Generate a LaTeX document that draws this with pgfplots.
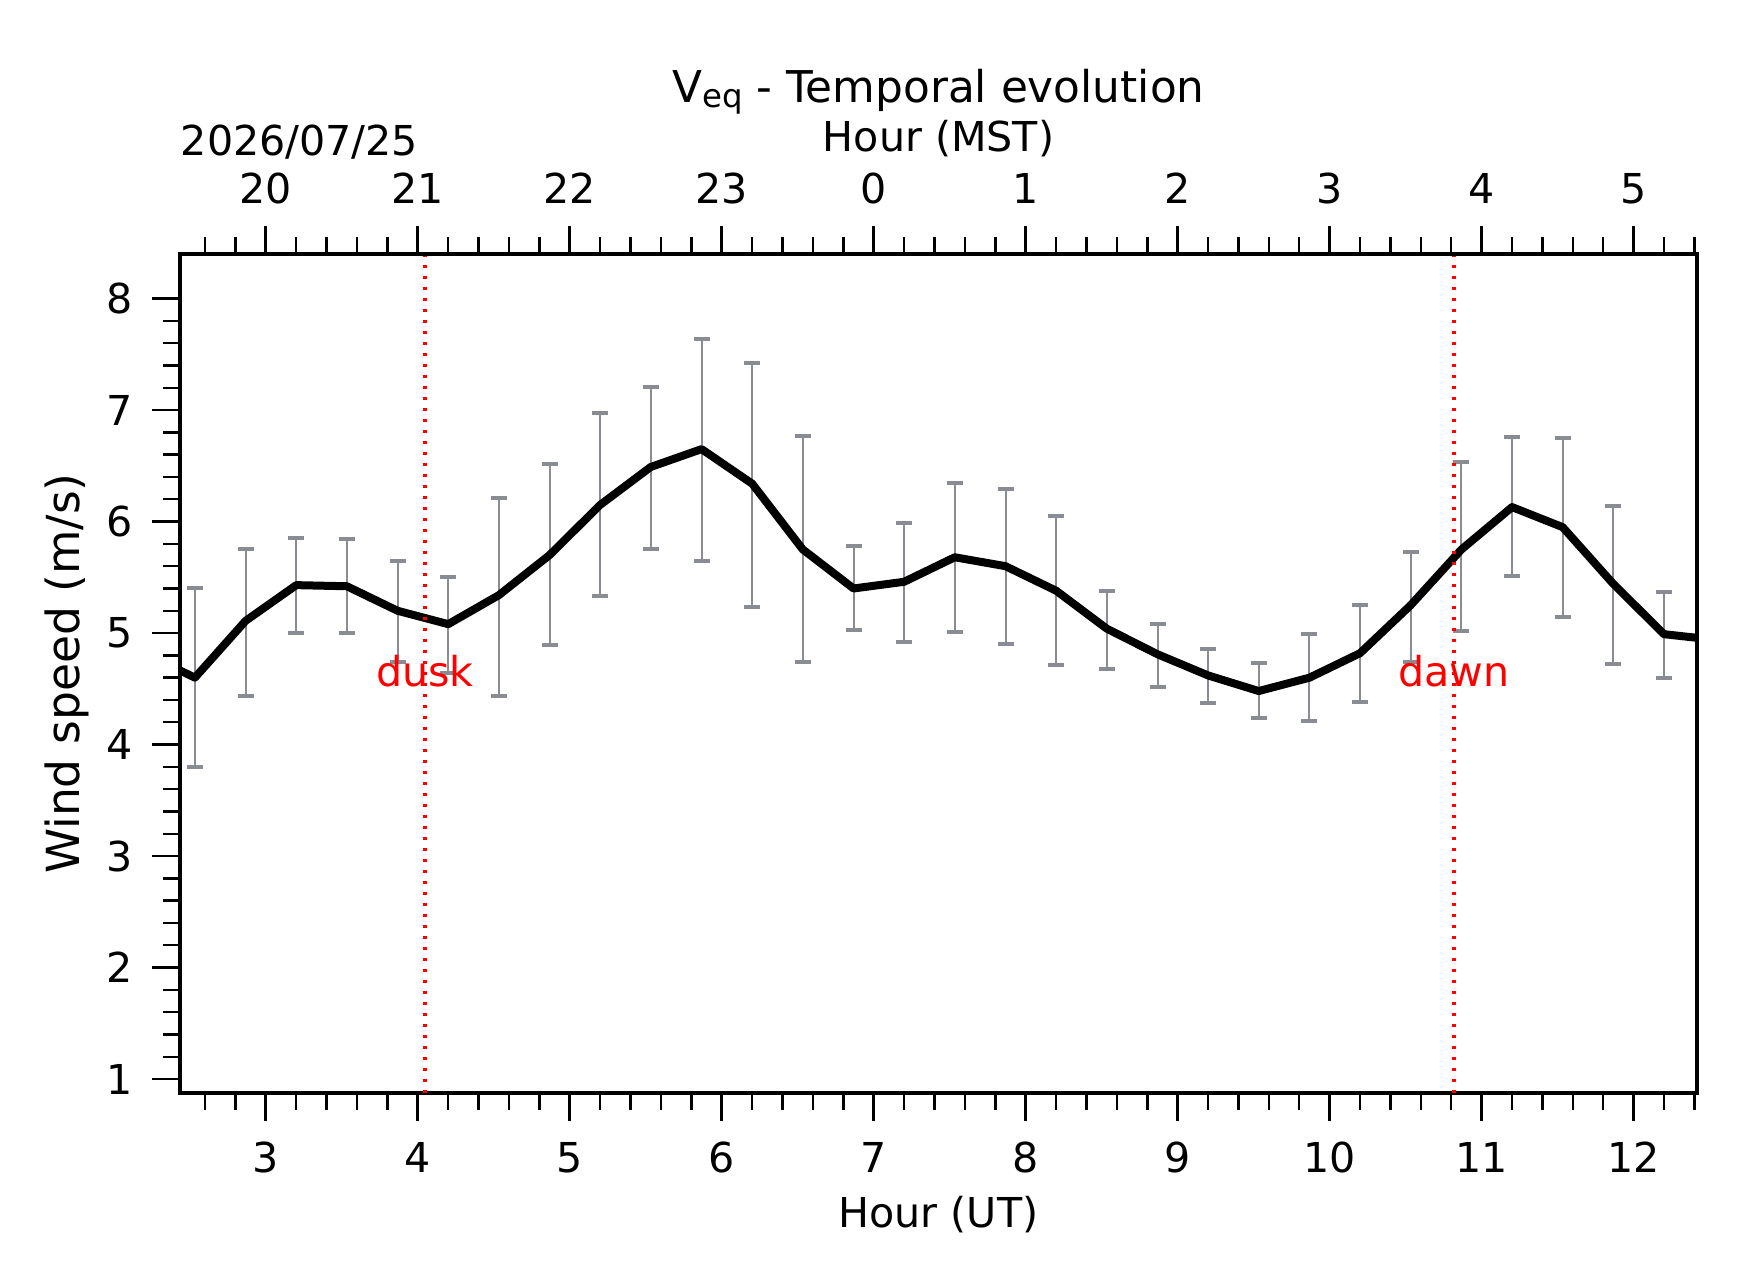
\documentclass[border=0pt]{standalone}
\usepackage{fontspec}
\setmainfont{DejaVu Sans}
\usepackage{pgfplots}
\pgfplotsset{compat=1.18}
\usepackage{pgfplotstable}
\definecolor{ebgray}{RGB}{138,140,148}
\newcommand\fs{\fontsize{10.3pt}{12.4pt}\selectfont}
\newcommand\fsy{\fontsize{11.4pt}{13.7pt}\selectfont}
\newcommand\fst{\fontsize{10.95pt}{13.2pt}\selectfont}

\pgfplotstableread{
x y ep em
2.533 4.60 0.80 0.80
2.867 5.11 0.64 0.67
3.200 5.43 0.42 0.43
3.533 5.42 0.42 0.42
3.867 5.20 0.45 0.46
4.200 5.08 0.42 0.44
4.533 5.34 0.87 0.90
4.867 5.70 0.82 0.81
5.200 6.15 0.82 0.82
5.533 6.49 0.72 0.74
5.867 6.65 0.99 1.00
6.200 6.34 1.08 1.11
6.533 5.75 1.02 1.01
6.867 5.40 0.38 0.37
7.200 5.46 0.53 0.54
7.533 5.68 0.67 0.67
7.867 5.60 0.69 0.70
8.200 5.38 0.67 0.67
8.533 5.04 0.34 0.36
8.867 4.81 0.27 0.29
9.200 4.62 0.24 0.25
9.533 4.48 0.25 0.24
9.867 4.60 0.39 0.39
10.200 4.82 0.43 0.44
10.533 5.25 0.48 0.51
10.867 5.75 0.78 0.73
11.200 6.13 0.63 0.62
11.533 5.95 0.80 0.81
11.867 5.44 0.70 0.72
12.200 4.99 0.38 0.39
}\data

\pgfplotstableread{
x y
2.200 4.82
2.533 4.60
2.867 5.11
3.200 5.43
3.533 5.42
3.867 5.20
4.200 5.08
4.533 5.34
4.867 5.70
5.200 6.15
5.533 6.49
5.867 6.65
6.200 6.34
6.533 5.75
6.867 5.40
7.200 5.46
7.533 5.68
7.867 5.60
8.200 5.38
8.533 5.04
8.867 4.81
9.200 4.62
9.533 4.48
9.867 4.60
10.200 4.82
10.533 5.25
10.867 5.75
11.200 6.13
11.533 5.95
11.867 5.44
12.200 4.99
12.533 4.94
}\linedata

\begin{document}
\begin{tikzpicture}
\begin{axis}[
  name=main,
  scale only axis, width=379.25pt, height=209.75pt,
  xmin=2.435, xmax=12.417, ymin=0.875, ymax=8.4,
  xtick={3,...,12}, ytick={1,...,8},
  minor xtick={2.6,2.8,3.2,3.4,3.6,3.8,4.2,4.4,4.6,4.8,5.2,5.4,5.6,5.8,6.2,6.4,6.6,6.8,7.2,7.4,7.6,7.8,8.2,8.4,8.6,8.8,9.2,9.4,9.6,9.8,10.2,10.4,10.6,10.8,11.2,11.4,11.6,11.8,12.2,12.4},
  minor y tick num=4,
  tick align=outside, xtick pos=bottom, ytick pos=left,
  major tick length=7pt, minor tick length=4.25pt,
  major tick style={line width=0.7pt, black},
  minor tick style={line width=0.6pt, black},
  axis line style={line width=0.8pt},
  /pgf/number format/assume math mode=true,
  tick label style={font=\fs, inner sep=0pt},
  xticklabel style={anchor=base, yshift=-12.8pt},
  yticklabel style={anchor=east, xshift=-4.7pt},
  xlabel={Hour (UT)}, ylabel={Wind speed (m/s)},
  xlabel style={font=\fs, at={([yshift=-33.7pt]axis description cs:0.5,0)}, anchor=base, inner sep=0pt},
  ylabel style={font=\fsy, at={([xshift=-25pt]axis description cs:0,0.5)}, anchor=base, inner sep=0pt},
]
\addplot[draw=none, mark=none,
  error bars/.cd, y dir=both, y explicit,
  error bar style={draw=ebgray, line width=0.5pt},
  error mark=|,
  error mark options={draw=ebgray, line width=1pt, mark size=2pt}]
  table[x=x, y=y, y error plus=ep, y error minus=em]{\data};
\addplot[black, line width=2pt, line join=round, mark=none] table[x=x, y=y]{\linedata};
\addplot[red, line width=0.85pt, dash pattern=on 0.85pt off 1.9pt] coordinates {(4.047,0.875) (4.047,8.4)};
\addplot[red, line width=0.85pt, dash pattern=on 0.85pt off 1.9pt] coordinates {(10.819,0.875) (10.819,8.4)};
\node[red, anchor=base, font=\fs, inner sep=0pt] at (axis cs:4.047,4.52) {dusk};
\node[red, anchor=base, font=\fs, inner sep=0pt] at (axis cs:10.819,4.52) {dawn};
\end{axis}
\begin{axis}[
  scale only axis, width=379.25pt, height=209.75pt,
  xmin=2.435, xmax=12.417, ymin=0.875, ymax=8.4,
  hide y axis,
  axis x line*=top,
  xtick={3,...,12}, xticklabels={20,21,22,23,0,1,2,3,4,5},
  minor xtick={2.6,2.8,3.2,3.4,3.6,3.8,4.2,4.4,4.6,4.8,5.2,5.4,5.6,5.8,6.2,6.4,6.6,6.8,7.2,7.4,7.6,7.8,8.2,8.4,8.6,8.8,9.2,9.4,9.6,9.8,10.2,10.4,10.6,10.8,11.2,11.4,11.6,11.8,12.2,12.4},
  tick align=outside,
  major tick length=7pt, minor tick length=4.25pt,
  major tick style={line width=0.7pt, black},
  minor tick style={line width=0.6pt, black},
  axis line style={line width=0.8pt},
  tick label style={font=\fs, inner sep=0pt},
  xticklabel style={anchor=base, yshift=5.7pt},
  xlabel={Hour (MST)},
  xlabel style={font=\fs, at={([yshift=25.7pt]axis description cs:0.5,1)}, anchor=base, inner sep=0pt},
  title={V\raisebox{-0.12em}{\fontsize{8.1pt}{9.5pt}\selectfont eq} - Temporal evolution},
  title style={font=\fst, at={([yshift=31.9pt]axis description cs:0.5,1)}, anchor=base, inner sep=0pt},
]
\end{axis}
\node[anchor=base west, font=\fs, inner sep=0pt] at ([yshift=24.5pt]main.north west) {2026/07/25};
\path ([shift={(-45pt,-47.2pt)}]main.south west) rectangle ([shift={(11.25pt,63.5pt)}]main.north east);
\end{tikzpicture}
\end{document}
